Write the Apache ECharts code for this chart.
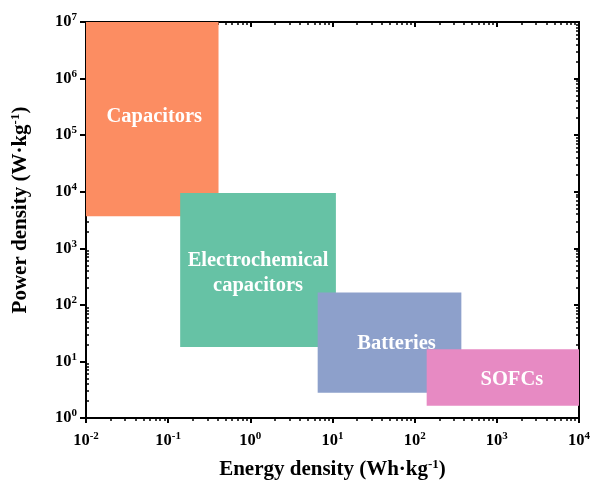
<!DOCTYPE html>
<html><head><meta charset="utf-8">
<script src="https://cdn.jsdelivr.net/npm/echarts@6/dist/echarts.min.js"></script>
<style>html,body{margin:0;padding:0;background:#fff}#c{width:593px;height:484px}</style>
</head><body><div id="c"></div>
<script>
// Data
const categories = ['Capacitors', 'Electrochemical\ncapacitors', 'Batteries', 'SOFCs'];
const energyMin = [0.01, 0.14, 6.6, 140];
const energyMax = [0.41, 11, 370, 10000];
const powerMin = [3700, 18, 2.8, 1.65];
const powerMax = [1e7, 9500, 165, 16.5];
const colors = ['#FC8D62', '#66C2A5', '#8DA0CB', '#E78AC3'];
const xMajorTicks = [0.01, 0.1, 1, 10, 100, 1000, 10000];
const yMajorTicks = [1, 10, 100, 1000, 10000, 100000, 1000000, 10000000];
const minorMultipliers = [2, 3, 4, 5, 6, 7, 8, 9];
// label nudges in pixels (layout only)
const labelShift = [[2, -2], [0, 3], [7, 1], [9, 2]];

function minorOf(majors) {
  const out = [];
  for (let i = 0; i < majors.length - 1; i++) {
    minorMultipliers.forEach(m => out.push(+(majors[i] * m).toPrecision(6)));
  }
  return out;
}
const xMinorTicks = minorOf(xMajorTicks);
const yMinorTicks = minorOf(yMajorTicks);

const FONT = '"Liberation Serif", "Times New Roman", serif';
const rich = {
  b: { fontFamily: FONT, fontWeight: 'bold', fontSize: 16.5, color: '#000' },
  s: { fontFamily: FONT, fontWeight: 'bold', fontSize: 11, color: '#000', padding: [0, 0, 9, 0] }
};
const nameRich = {
  b: { fontFamily: FONT, fontWeight: 'bold', fontSize: 21, color: '#000' },
  s: { fontFamily: FONT, fontWeight: 'bold', fontSize: 13, color: '#000', padding: [0, 0, 10, 0] }
};
function powLabel(v) {
  const e = Math.round(Math.log10(v));
  return '{b|10}{s|' + e + '}';
}
const lineStyle = { color: '#000', width: 2 };
const minorStyle = { color: '#000', width: 1.5 };

function axisBase(type, extra) {
  return Object.assign({
    type: 'log', logBase: 10,
    min: type === 'x' ? xMajorTicks[0] : yMajorTicks[0],
    max: type === 'x' ? xMajorTicks[xMajorTicks.length - 1] : yMajorTicks[yMajorTicks.length - 1],
    splitLine: { show: false },
    axisLine: { show: true, onZero: false, lineStyle: lineStyle },
    axisLabel: { show: false },
    axisTick: { show: true }
  }, extra);
}

const xAxes = [
  axisBase('x', {
    position: 'bottom',
    name: '{b|Energy density (Wh·kg}{s|-1}{b|)}',
    nameLocation: 'middle', nameGap: 40,
    nameTextStyle: { rich: nameRich },
    axisTick: { show: true, inside: false, length: 5, lineStyle: lineStyle, customValues: xMajorTicks },
    axisLabel: { show: true, margin: 13, customValues: xMajorTicks, formatter: powLabel, rich: rich }
  }),
  axisBase('x', {
    position: 'bottom',
    axisTick: { show: true, inside: false, length: 3, lineStyle: minorStyle, customValues: xMinorTicks }
  }),
  axisBase('x', {
    position: 'top',
    axisTick: { show: true, inside: true, length: 5, lineStyle: lineStyle, customValues: xMajorTicks }
  }),
  axisBase('x', {
    position: 'top',
    axisTick: { show: true, inside: true, length: 3, lineStyle: minorStyle, customValues: xMinorTicks }
  })
];
const yAxes = [
  axisBase('y', {
    position: 'left',
    name: '{b|Power density (W·kg}{s|-1}{b|)}',
    nameLocation: 'middle', nameGap: 54, nameRotate: 90,
    nameTextStyle: { rich: nameRich, padding: [0, 0, 0, 20] },
    axisTick: { show: true, inside: false, length: 6, lineStyle: lineStyle, customValues: yMajorTicks },
    axisLabel: { show: true, margin: 9, customValues: yMajorTicks, formatter: powLabel, rich: rich }
  }),
  axisBase('y', {
    position: 'left',
    axisTick: { show: true, inside: true, length: 3, lineStyle: minorStyle, customValues: yMinorTicks }
  }),
  axisBase('y', {
    position: 'right',
    axisTick: { show: true, inside: true, length: 5, lineStyle: lineStyle, customValues: yMajorTicks }
  }),
  axisBase('y', {
    position: 'right',
    axisTick: { show: true, inside: true, length: 3, lineStyle: minorStyle, customValues: yMinorTicks }
  })
];

const data = categories.map((c, i) => [energyMin[i], energyMax[i], powerMin[i], powerMax[i], i]);

const chart = echarts.init(document.getElementById('c'), null, { renderer: 'canvas' });
chart.setOption({
  animation: false,
  backgroundColor: '#fff',
  grid: { left: 86, right: 14, top: 22, bottom: 66, containLabel: false, outerBoundsMode: 'none' },
  xAxis: xAxes,
  yAxis: yAxes,
  series: [{
    type: 'custom',
    xAxisIndex: 0, yAxisIndex: 0,
    encode: { x: [0, 1], y: [2, 3] },
    data: data,
    renderItem: function (params, api) {
      const i = api.value(4);
      const p0 = api.coord([api.value(0), api.value(3)]);
      const p1 = api.coord([api.value(1), api.value(2)]);
      return {
        type: 'rect',
        shape: { x: p0[0], y: p0[1], width: p1[0] - p0[0], height: p1[1] - p0[1] },
        style: { fill: colors[i] },
        textContent: {
          style: {
            text: categories[i], fill: '#fff', align: 'center',
            font: 'bold 20.5px ' + FONT, lineHeight: 25
          }
        },
        textConfig: { position: 'inside', offset: labelShift[i] }
      };
    }
  }]
});
</script>
</body></html>
